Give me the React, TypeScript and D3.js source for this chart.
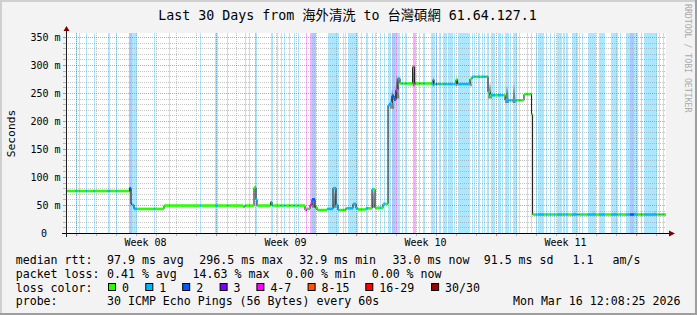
import React from "react";
import * as d3 from "d3";

// ---------- data ----------
const TITLE = "Last 30 Days from 海外清洗 to 台灣碩網 61.64.127.1";
const Y_TICKS = [0, 50, 100, 150, 200, 250, 300, 350];
const Y_LABELS = ["0", "50 m", "100 m", "150 m", "200 m", "250 m", "300 m", "350 m"];
const WEEKS = ["Week 08", "Week 09", "Week 10", "Week 11"];
const WEEK_CENTERS = [3.975, 10.975, 17.975, 24.975];
const WEEK_STARTS = [0.475, 7.475, 14.475, 21.475, 28.475];

const LOSS_COLORS = ["#26ff00", "#00b8ff", "#0059ff", "#7e00ff", "#ff00ff", "#ff5500", "#ff0000", "#a10000"];
const LOSS_LABELS = ["0", "1", "2", "3", "4-7", "8-15", "16-29", "30/30"];

// median rtt steps: [startDay, endDay, ms]
const MEDIAN: [number, number, number][] = [
  [0, 3.18, 75], [3.18, 3.25, 80], [3.25, 3.3, 52], [3.3, 3.4, 50], [3.4, 4.9, 43],
  [4.9, 8.85, 49], [8.85, 8.95, 47], [8.95, 9.4, 49], [9.4, 9.5, 81], [9.5, 9.55, 60],
  [9.55, 10.23, 49], [10.23, 10.3, 55], [10.3, 11.95, 49], [11.95, 12.05, 41], [12.05, 12.2, 43],
  [12.2, 12.3, 50], [12.3, 12.45, 60], [12.45, 12.55, 46], [12.55, 13.05, 41], [13.05, 13.35, 43],
  [13.35, 13.5, 80], [13.5, 13.6, 50], [13.6, 14.0, 41], [14.0, 14.35, 44], [14.35, 14.5, 52],
  [14.5, 14.6, 44], [14.6, 15.0, 42], [15.0, 15.3, 44], [15.3, 15.45, 78], [15.45, 15.85, 45],
  [15.85, 16.1, 52], [16.1, 16.2, 228], [16.2, 16.3, 232], [16.3, 16.4, 245], [16.4, 16.5, 238],
  [16.5, 16.6, 255], [16.6, 16.7, 276], [16.7, 17.33, 267], [17.33, 17.43, 296.5], [17.43, 18.35, 267],
  [18.35, 18.4, 274], [18.4, 19.5, 266], [19.5, 19.58, 274], [19.58, 20.2, 266], [20.2, 20.3, 275],
  [20.3, 21.1, 279], [21.1, 21.2, 252], [21.2, 21.95, 246], [21.95, 22.9, 237], [22.9, 23.28, 248],
  [23.28, 23.33, 212], [23.33, 30, 33],
];

// packet loss periods: [startDay, endDay, lossColorIndex]
const LOSS: [number, number, number][] = [
  [0.48, 0.54, 1], [0.65, 0.7, 1], [1.0, 1.05, 1], [1.38, 1.43, 1], [2.08, 2.22, 1],
  [2.5, 2.55, 1], [3.15, 3.3, 2], [3.3, 3.55, 1], [4.39, 4.44, 1], [5.15, 5.2, 1],
  [6.7, 6.75, 1], [7.45, 7.59, 1], [8.07, 8.12, 1], [8.93, 8.98, 1], [9.15, 9.2, 1],
  [9.45, 9.55, 1], [10.24, 10.34, 1], [10.55, 10.6, 1], [10.73, 10.78, 1], [10.92, 10.97, 1],
  [11.17, 11.22, 1], [11.38, 11.43, 1], [11.58, 11.63, 1], [12.0, 12.05, 4], [12.2, 12.3, 4],
  [12.3, 12.5, 2], [13.09, 13.65, 1], [13.85, 13.9, 1], [13.97, 14.02, 1], [14.1, 14.59, 1],
  [14.75, 14.8, 1], [15.0, 15.1, 1], [15.3, 15.35, 1], [15.45, 15.5, 1], [15.7, 15.75, 1],
  [15.9, 15.95, 1], [16.09, 16.25, 1], [16.3, 16.45, 2], [16.45, 16.55, 4], [16.55, 16.68, 1],
  [16.79, 16.84, 1], [16.95, 17.03, 1], [17.37, 17.5, 4], [17.67, 17.72, 1], [17.87, 17.93, 1],
  [18.25, 18.43, 1], [18.5, 18.55, 2], [18.64, 18.75, 1], [18.87, 19.04, 1], [19.09, 19.34, 1],
  [19.4, 19.45, 1], [19.6, 20.2, 1], [20.3, 20.35, 1], [20.42, 20.47, 1], [20.59, 20.7, 1],
  [20.79, 20.87, 1], [20.92, 20.97, 1], [21.04, 21.14, 1], [21.25, 21.45, 1], [21.6, 21.75, 1],
  [21.8, 21.85, 1], [21.95, 22.15, 1], [22.18, 22.25, 1], [22.33, 22.54, 1], [22.67, 22.72, 1],
  [23.04, 23.09, 1], [23.24, 23.29, 1], [23.5, 23.55, 1], [23.6, 23.9, 1], [24.0, 24.05, 1],
  [24.2, 24.25, 1], [24.4, 24.45, 1], [24.55, 24.8, 1], [24.85, 24.95, 1], [25.0, 25.1, 1],
  [25.3, 25.58, 1], [25.63, 25.68, 1], [25.8, 25.85, 1], [26.08, 26.5, 1], [26.65, 26.95, 1],
  [27.25, 27.59, 1], [27.7, 27.75, 1], [28.0, 28.2, 1], [28.2, 28.4, 2], [28.4, 28.6, 1],
  [28.75, 28.8, 4], [28.92, 29.54, 1], [29.67, 29.72, 1], [29.84, 29.89, 1],
];

// smoke (ping spread) peaks: [centerDay, halfWidthDay, lowMs, highMs]
const SMOKE_DARK: [number, number, number, number][] = [
  [3.2, 0.05, 75, 83], [12.38, 0.08, 45, 63], [13.45, 0.08, 45, 84], [15.37, 0.07, 45, 81],
  [16.3, 0.1, 222, 258], [16.55, 0.12, 240, 282], [17.38, 0.06, 262, 301], [18.37, 0.05, 262, 276],
  [19.52, 0.05, 262, 276], [20.25, 0.05, 262, 277], [21.2, 0.1, 240, 270], [22.05, 0.1, 232, 264],
  [22.4, 0.08, 232, 268],
];
const SMOKE_LIGHT: [number, number, number, number][] = [
  [25.45, 0.06, 33, 40], [26.4, 0.06, 33, 41], [27.45, 0.06, 33, 39], [28.45, 0.06, 33, 40], [29.45, 0.06, 33, 41],
];

const RTT_STATS = ["97.9 ms avg", "296.5 ms max", "32.9 ms min", "33.0 ms now", "91.5 ms sd", "1.1", "am/s"];
const LOSS_STATS = ["0.41 % avg", "14.63 % max", "0.00 % min", "0.00 % now"];
const PROBE = "30 ICMP Echo Pings (56 Bytes) every 60s";
const STAMP = "Mon Mar 16 12:08:25 2026";

// ---------- layout ----------
const W = 697, H = 315;
const X0 = 66, X1 = 666, YB = 233, YT = 33;
const MONO = "'DejaVu Sans Mono', 'Noto Sans CJK TC', monospace";
const RTT_X = [107, 199.3, 299.3, 392.6, 483.7, 572.6, 612.6];
const LOSS_X = [107, 192.6, 286, 371.7];
const BOX_X = [108, 145.3, 182.2, 219.6, 256.4, 307.6, 365.3, 431.1];

export default function App() {
  const x = d3.scaleLinear().domain([0, 30]).range([X0, X1]);
  const y = d3.scaleLinear().domain([0, 350]).range([YB, 37]);
  const px = (v: number) => Math.round(v) + 0.5;

  // colored median segments, split by loss periods
  const bp = new Set<number>();
  MEDIAN.forEach(([a, b]) => { bp.add(a); bp.add(b); });
  LOSS.forEach(([a, b]) => { bp.add(a); bp.add(b); });
  const bps = Array.from(bp).sort((a, b) => a - b);
  const segs: { a: number; b: number; v: number; l: number }[] = [];
  for (let i = 0; i < bps.length - 1; i++) {
    const a = bps[i], b = bps[i + 1], m = (a + b) / 2;
    const s = MEDIAN.find((d) => m >= d[0] && m < d[1]);
    if (!s) continue;
    const l = LOSS.find((d) => m >= d[0] && m < d[1]);
    segs.push({ a, b, v: s[2], l: l ? l[2] : 0 });
  }

  const stepPts: [number, number][] = MEDIAN.map((d) => [d[0], d[2]]);
  stepPts.push([MEDIAN[MEDIAN.length - 1][1], MEDIAN[MEDIAN.length - 1][2]]);
  const stepLine = d3.line<[number, number]>().x((d) => x(d[0])).y((d) => y(d[1])).curve(d3.curveStepAfter);

  const smokeArea = d3.area<[number, number, number]>().x((d) => x(d[0])).y0((d) => y(d[1])).y1((d) => y(d[2]));
  const smokePath = (s: [number, number, number, number]) =>
    smokeArea([[s[0] - s[1], s[2], s[2]], [s[0], s[2], s[3]], [s[0] + s[1], s[2], s[2]]]) || "";

  const minorY = d3.range(10, 351, 10).filter((v) => v % 50 !== 0);
  const dayLines = d3.range(0.475, 30, 1).filter((d) => !WEEK_STARTS.some((w) => Math.abs(w - d) < 0.01));

  return (
    <>
      <style>{"body{margin:0}"}</style>
      <svg width={W} height={H} style={{ display: "block" }} fontFamily={MONO}>
        <rect x={0} y={0} width={W} height={H} fill="#f3f3f3" />
        {/* frame */}
        <rect x={0} y={0} width={W} height={2} fill="#cfcfcf" />
        <rect x={0} y={0} width={2} height={H} fill="#cfcfcf" />
        <rect x={0} y={H - 2} width={W} height={2} fill="#9e9e9e" />
        <rect x={W - 2} y={0} width={2} height={H} fill="#9e9e9e" />

        <text x={347.5} y={19.5} fontSize={13.3} textAnchor="middle" fill="#000">{TITLE}</text>

        {/* canvas */}
        <rect x={X0} y={YT} width={X1 - X0} height={YB - YT} fill="#ffffff" />

        {/* loss bars */}
        <g shapeRendering="crispEdges">
          {LOSS.map((d, i) => (
            <rect key={i} x={x(d[0])} y={YT} width={Math.max(1, x(d[1]) - x(d[0]))} height={YB - YT}
              fill={LOSS_COLORS[d[2]]} fillOpacity={0.33} />
          ))}
        </g>

        {/* grid */}
        <g strokeDasharray="1,1" strokeWidth={1}>
          {minorY.map((v) => (
            <line key={"my" + v} x1={X0} x2={X1} y1={px(y(v))} y2={px(y(v))} stroke="#8f8f8f" strokeOpacity={0.5} />
          ))}
          {dayLines.map((d) => (
            <line key={"mx" + d} x1={px(x(d))} x2={px(x(d))} y1={YT} y2={YB} stroke="#8f8f8f" strokeOpacity={0.5} />
          ))}
          {Y_TICKS.filter((v) => v > 0).map((v) => (
            <line key={"My" + v} x1={X0} x2={X1} y1={px(y(v))} y2={px(y(v))} stroke="#de5050" strokeOpacity={0.6} />
          ))}
          {WEEK_STARTS.map((d) => (
            <line key={"Mx" + d} x1={px(x(d))} x2={px(x(d))} y1={YT} y2={YB} stroke="#de5050" strokeOpacity={0.6} />
          ))}
        </g>
        {/* ticks */}
        <g strokeWidth={1}>
          {dayLines.map((d) => (
            <line key={"tx" + d} x1={px(x(d))} x2={px(x(d))} y1={YB} y2={YB + 3} stroke="#8f8f8f" strokeOpacity={0.6} />
          ))}
          {WEEK_STARTS.map((d) => (
            <line key={"Tx" + d} x1={px(x(d))} x2={px(x(d))} y1={YB} y2={YB + 3} stroke="#de5050" strokeOpacity={0.7} />
          ))}
          {minorY.map((v) => (
            <line key={"ty" + v} x1={X0 - 3} x2={X0} y1={px(y(v))} y2={px(y(v))} stroke="#8f8f8f" strokeOpacity={0.6} />
          ))}
          {Y_TICKS.map((v) => (
            <line key={"Ty" + v} x1={X0 - 3} x2={X0} y1={px(y(v))} y2={px(y(v))} stroke="#de5050" strokeOpacity={0.7} />
          ))}
        </g>

        {/* smoke */}
        {SMOKE_DARK.map((s, i) => (
          <path key={"sd" + i} d={smokePath(s)} fill="#444" fillOpacity={0.6} />
        ))}
        {SMOKE_LIGHT.map((s, i) => (
          <path key={"sl" + i} d={smokePath(s)} fill="#999" fillOpacity={0.45} />
        ))}

        {/* median: dark step line then loss-coloured segments */}
        <path d={stepLine(stepPts) || ""} fill="none" stroke="#111" strokeWidth={1} />
        {segs.map((s, i) => (
          <line key={"s" + i} x1={x(s.a)} x2={x(s.b)} y1={y(s.v)} y2={y(s.v)}
            stroke={LOSS_COLORS[s.l]} strokeWidth={2.6} />
        ))}

        {/* axes */}
        <line x1={X0 - 4} x2={670} y1={YB + 0.5} y2={YB + 0.5} stroke="#000" strokeWidth={1} />
        <line x1={X0 + 0.5} x2={X0 + 0.5} y1={YB + 4} y2={30} stroke="#202020" strokeWidth={1} />
        <path d={`M${X0 + 0.5},26 L${X0 - 2.5},31 L${X0 + 3.5},31 Z`} fill="#800000" />
        <path d={`M675,${YB + 0.5} L669,${YB - 2.5} L669,${YB + 3.5} Z`} fill="#800000" />

        {/* y labels */}
        {Y_TICKS.map((v, i) => (
          <text key={"yl" + v} x={v === 0 ? 47 : 60.5} y={y(v) + 3.6} fontSize={10} textAnchor="end" fill="#000">
            {Y_LABELS[i]}
          </text>
        ))}
        <text transform="translate(14.5,133.5) rotate(-90)" fontSize={11.3} textAnchor="middle" fill="#000">Seconds</text>

        {/* x labels */}
        {WEEKS.map((w, i) => (
          <text key={w} x={x(WEEK_CENTERS[i])} y={246.3} fontSize={10} textAnchor="middle" fill="#000">{w}</text>
        ))}

        {/* watermark */}
        <text transform="translate(684.5,4) rotate(90)" fontSize={8.2} fill="#aaaaaa">RRDTOOL / TOBI OETIKER</text>

        {/* legend */}
        <g fontSize={11.6} fill="#000">
          <text x={15.7} y={263.5}>median rtt:</text>
          {RTT_STATS.map((t, i) => <text key={"r" + i} x={RTT_X[i]} y={263.5}>{t}</text>)}
          <text x={15.7} y={277.5}>packet loss:</text>
          {LOSS_STATS.map((t, i) => <text key={"l" + i} x={LOSS_X[i]} y={277.5}>{t}</text>)}
          <text x={15.7} y={291.5}>loss color:</text>
          {LOSS_LABELS.map((t, i) => (
            <g key={"b" + i}>
              <rect x={BOX_X[i] + 0.5} y={283.5} width={7} height={7} fill={LOSS_COLORS[i]} stroke="#000" strokeWidth={1} />
              <text x={BOX_X[i] + 14} y={291.5}>{t}</text>
            </g>
          ))}
          <text x={15.7} y={305.3}>probe:</text>
          <text x={107} y={305.3}>{PROBE}</text>
          <text x={680.5} y={305.3} textAnchor="end">{STAMP}</text>
        </g>
      </svg>
    </>
  );
}
